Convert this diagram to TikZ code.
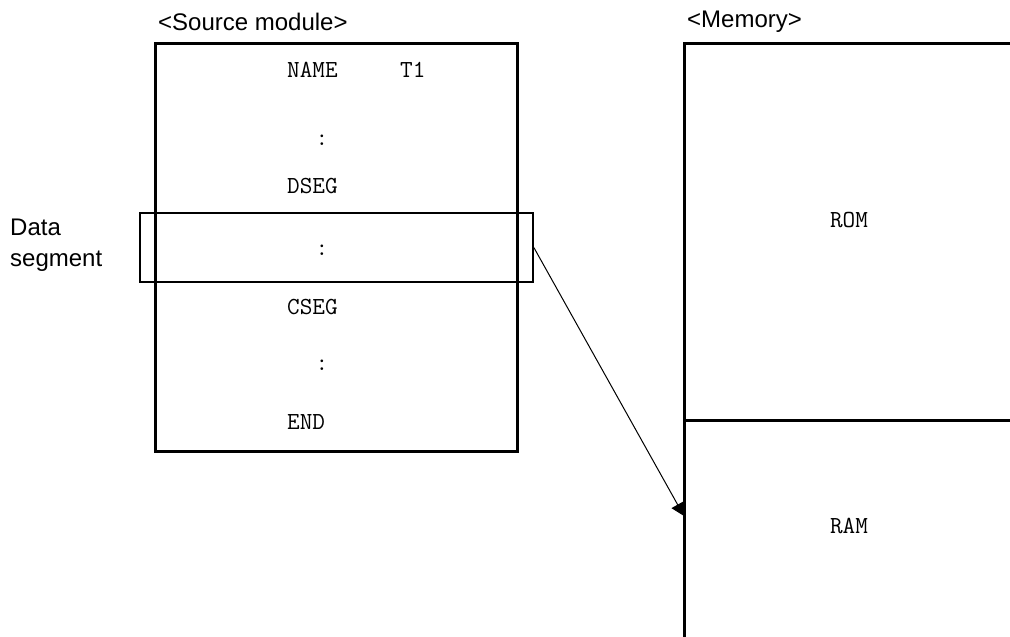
\documentclass[tikz,border=0pt]{standalone}
\usepackage{fontspec}
\setmainfont{Liberation Sans}
\usetikzlibrary{arrows.meta}

\tikzset{
  headtext/.style={font=\fontsize{24}{31}\selectfont, anchor=west, inner sep=0pt, align=left},
  codetext/.style={font=\fontsize{24.5}{28}\ttfamily, anchor=west, inner sep=0pt},
  dotstext/.style={font=\fontsize{24.5}{28}\ttfamily, inner sep=0pt},
  modbox/.style={draw, line width=3pt, rectangle, inner sep=0pt},
  segbox/.style={draw, line width=1.7pt, rectangle, inner sep=0pt},
  memline/.style={line width=3pt},
  link/.style={line width=1pt, -{Triangle[length=13pt, width=14pt]}}
}

\begin{document}
\begin{tikzpicture}[x=1pt, y=-1pt]
    \useasboundingbox (0,0) rectangle (1010,637);
    % Source module
    \node[headtext] (srchead) at (158,22) {<Source module>};
    \node[modbox, minimum width=362, minimum height=408] (src) at (336,247) {};
    \node[codetext] (name) at (287,70) {NAME};
    \node[codetext] (tone) at (400,70) {T1};
    \node[dotstext] (dotsa) at (322,140) {:};
    \node[codetext] (dseg) at (287,186) {DSEG};
    \node[dotstext] (dotsb) at (322,250) {:};
    \node[codetext] (cseg) at (287,307) {CSEG};
    \node[dotstext] (dotsc) at (322,365) {:};
    \node[codetext] (endkw) at (287,422) {END};
    % Data segment
    \node[segbox, minimum width=393, minimum height=69] (dataseg) at (336.5,247.5) {};
    \node[headtext] (datalabel) at (10,245.5) {Data\\segment};
    % Memory
    \node[headtext] (memhead) at (687,22) {<Memory>};
    \draw[memline] (1010,43) -- (684,43) -- (684,637);
    \draw[memline] (684,420) -- (1010,420);
    \node[codetext, anchor=center] (rom) at (849,220) {ROM};
    \node[codetext, anchor=center] (ram) at (849,526) {RAM};
    \coordinate (ramin) at (684,516);
    \draw[link] (dataseg.east) -- (ramin);
\end{tikzpicture}
\end{document}
